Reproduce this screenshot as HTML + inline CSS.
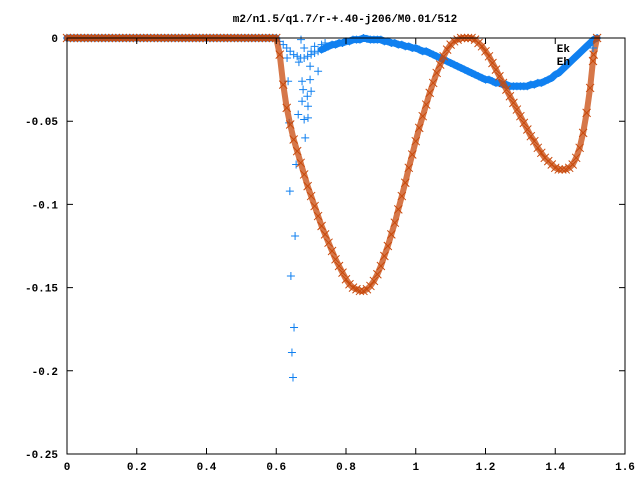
<!DOCTYPE html>
<html><head><meta charset="utf-8"><style>
body{margin:0;background:#fff}
svg text{font-family:"Liberation Mono","DejaVu Sans Mono",monospace;font-size:11px;font-weight:bold;fill:#000}
</style></head><body>
<svg id="chart" width="640" height="480" viewBox="0 0 640 480" xmlns="http://www.w3.org/2000/svg">
<rect width="640" height="480" fill="#fff"/>
<text x="345" y="22" text-anchor="middle">m2/n1.5/q1.7/r-+.40-j206/M0.01/512</text>
<g id="marks"></g>
<g id="axes"></g>
</svg>
<script>
const xTicks=[0,0.2,0.4,0.6,0.8,1,1.2,1.4,1.6];
const xTickLabels=["0","0.2","0.4","0.6","0.8","1","1.2","1.4","1.6"];
const yTicks=[0,-0.05,-0.1,-0.15,-0.2,-0.25];
const yTickLabels=["0","-0.05","-0.1","-0.15","-0.2","-0.25"];
const gridStart=0, gridStep=0.01;
const ehValues=[
0,0,0,0,0,0,0,0,0,0, 0,0,0,0,0,0,0,0,0,0, 0,0,0,0,0,0,0,0,0,0,
0,0,0,0,0,0,0,0,0,0, 0,0,0,0,0,0,0,0,0,0, 0,0,0,0,0,0,0,0,0,0,
0,-0.01,-0.028,-0.042,-0.052,-0.061,-0.068,-0.075,-0.082,-0.089,
-0.095,-0.101,-0.107,-0.113,-0.118,-0.123,-0.128,-0.133,-0.137,-0.141,
-0.145,-0.148,-0.150,-0.151,-0.152,-0.152,-0.151,-0.149,-0.146,-0.142,
-0.137,-0.131,-0.125,-0.118,-0.111,-0.103,-0.095,-0.087,-0.078,-0.070,
-0.062,-0.054,-0.047,-0.040,-0.033,-0.027,-0.021,-0.016,-0.011,-0.007,
-0.004,-0.002,-0.001,0,0,0,0,-0.001,-0.003,-0.005,
-0.008,-0.011,-0.015,-0.019,-0.023,-0.027,-0.031,-0.035,-0.039,-0.043,
-0.047,-0.051,-0.055,-0.059,-0.062,-0.066,-0.069,-0.072,-0.074,-0.076,
-0.078,-0.079,-0.079,-0.079,-0.078,-0.076,-0.072,-0.066,-0.057,-0.045,
-0.030,-0.010,0];
const ekValues=[
0,0,0,0,0,0,0,0,0,0, 0,0,0,0,0,0,0,0,0,0, 0,0,0,0,0,0,0,0,0,0,
0,0,0,0,0,0,0,0,0,0, 0,0,0,0,0,0,0,0,0,0, 0,0,0,0,0,0,0,0,0,0,
0,-0.002,-0.004,-0.006,-0.008,-0.01,-0.011,-0.012,-0.012,-0.011,-0.01,-0.009,-0.008,
-0.007,-0.006,-0.005,-0.004,-0.004,-0.003,-0.003,-0.002,-0.002,-0.001,-0.001,-0.001,0,
-0.0005,-0.001,-0.001,-0.001,-0.001,-0.002,-0.002,-0.003,-0.003,-0.004,-0.004,-0.005,-0.005,-0.006,-0.006,
-0.007,-0.008,-0.008,-0.009,-0.010,-0.011,-0.012,-0.013,-0.014,-0.015,-0.016,-0.017,-0.018,-0.019,-0.020,
-0.021,-0.022,-0.023,-0.024,-0.025,-0.025,-0.026,-0.027,-0.027,-0.028,-0.028,-0.029,-0.029,-0.029,-0.029,
-0.029,-0.029,-0.028,-0.028,-0.027,-0.027,-0.026,-0.025,-0.024,-0.022,-0.021,-0.019,-0.017,-0.015,-0.013,
-0.011,-0.009,-0.007,-0.005,-0.003,-0.001,0];
const ekScatterX=[0.671,0.631,0.665,0.697,0.72,0.634,0.674,0.697,0.677,0.70,0.689,0.674,0.691,0.663,0.691,0.68,0.683,0.637,0.657,0.639,0.654,0.642,0.651,0.645,0.648,0.70,0.71,0.73,0.74,0.68];
const ekScatterY=[-0.001,-0.012,-0.0145,-0.017,-0.02,-0.026,-0.026,-0.025,-0.031,-0.032,-0.035,-0.038,-0.041,-0.046,-0.048,-0.049,-0.06,-0.051,-0.076,-0.092,-0.119,-0.143,-0.174,-0.189,-0.204,-0.008,-0.005,-0.004,-0.003,-0.006];

const L=67,R=625,T=38,B=454;
const xS=v=>L+(v-0)/1.6*(R-L);
const yS=v=>T+(0-v)/0.25*(B-T);
const NS="http://www.w3.org/2000/svg";
const marks=document.getElementById('marks'), axes=document.getElementById('axes');
function mk(tag,attrs,parent){const e=document.createElementNS(NS,tag);for(const k in attrs)e.setAttribute(k,attrs[k]);parent.appendChild(e);return e;}
const EKC="#1080f0", EHC="#c84a0c";
function plus(cx,cy,parent){return mk('path',{d:`M${cx-4},${cy}h8M${cx},${cy-4}v8`,stroke:EKC,'stroke-width':1,fill:'none'},parent);}
function cross(cx,cy,parent){return mk('path',{d:`M${cx-4},${cy-4}l8,8M${cx-4},${cy+4}l8,-8`,stroke:EHC,'stroke-width':1,fill:'none'},parent);}
function band(vals,color,width,op,skipFrom,skipTo){
  let d='',pen=false;
  vals.forEach((v,i)=>{if(i>skipFrom&&i<skipTo){pen=false;return;}
    d+=(pen?'L':'M')+xS(gridStart+i*gridStep)+','+yS(v);pen=true;});
  return mk('path',{d:d,stroke:color,'stroke-width':width,'stroke-opacity':op,fill:'none','stroke-linejoin':'round','stroke-linecap':'round'},marks);
}
// Ek (drawn first)
const ekBand=band(ekValues,EKC,7,1,60,73);


ekValues.forEach((v,i)=>{const p=plus(xS(gridStart+i*gridStep),yS(v),marks);

});
ekScatterX.forEach((x,i)=>{const p=plus(xS(x),yS(ekScatterY[i]),marks);

});
// Eh (drawn on top)
const ehBand=band(ehValues,EHC,6,0.75,999,999);


ehValues.forEach((v,i)=>{const p=cross(xS(gridStart+i*gridStep),yS(v),marks);

});
// border
const bd=mk('rect',{x:L,y:T,width:R-L,height:B-T,fill:'none',stroke:'#000','stroke-width':1},axes);


xTicks.forEach((v,i)=>{const x=xS(v);
const t=mk('path',{d:`M${x},${B}v-6M${x},${T}v6`,stroke:'#000'},axes);


const tx=mk('text',{x:x,y:470,'text-anchor':'middle'},axes);tx.textContent=xTickLabels[i];

});
yTicks.forEach((v,i)=>{const y=yS(v);
const t=mk('path',{d:`M${L},${y}h6M${R},${y}h-6`,stroke:'#000'},axes);


const tx=mk('text',{x:58,y:y+4,'text-anchor':'end'},axes);tx.textContent=yTickLabels[i];

});
// legend
const lg=mk('g',{},axes);


const l1=mk('text',{x:570,y:52,'text-anchor':'end'},lg);l1.textContent='Ek';


const m1=plus(593,48,lg);


const l2=mk('text',{x:570,y:65,'text-anchor':'end'},lg);l2.textContent='Eh';


const m2=cross(593,61,lg);


</script>
</body></html>
